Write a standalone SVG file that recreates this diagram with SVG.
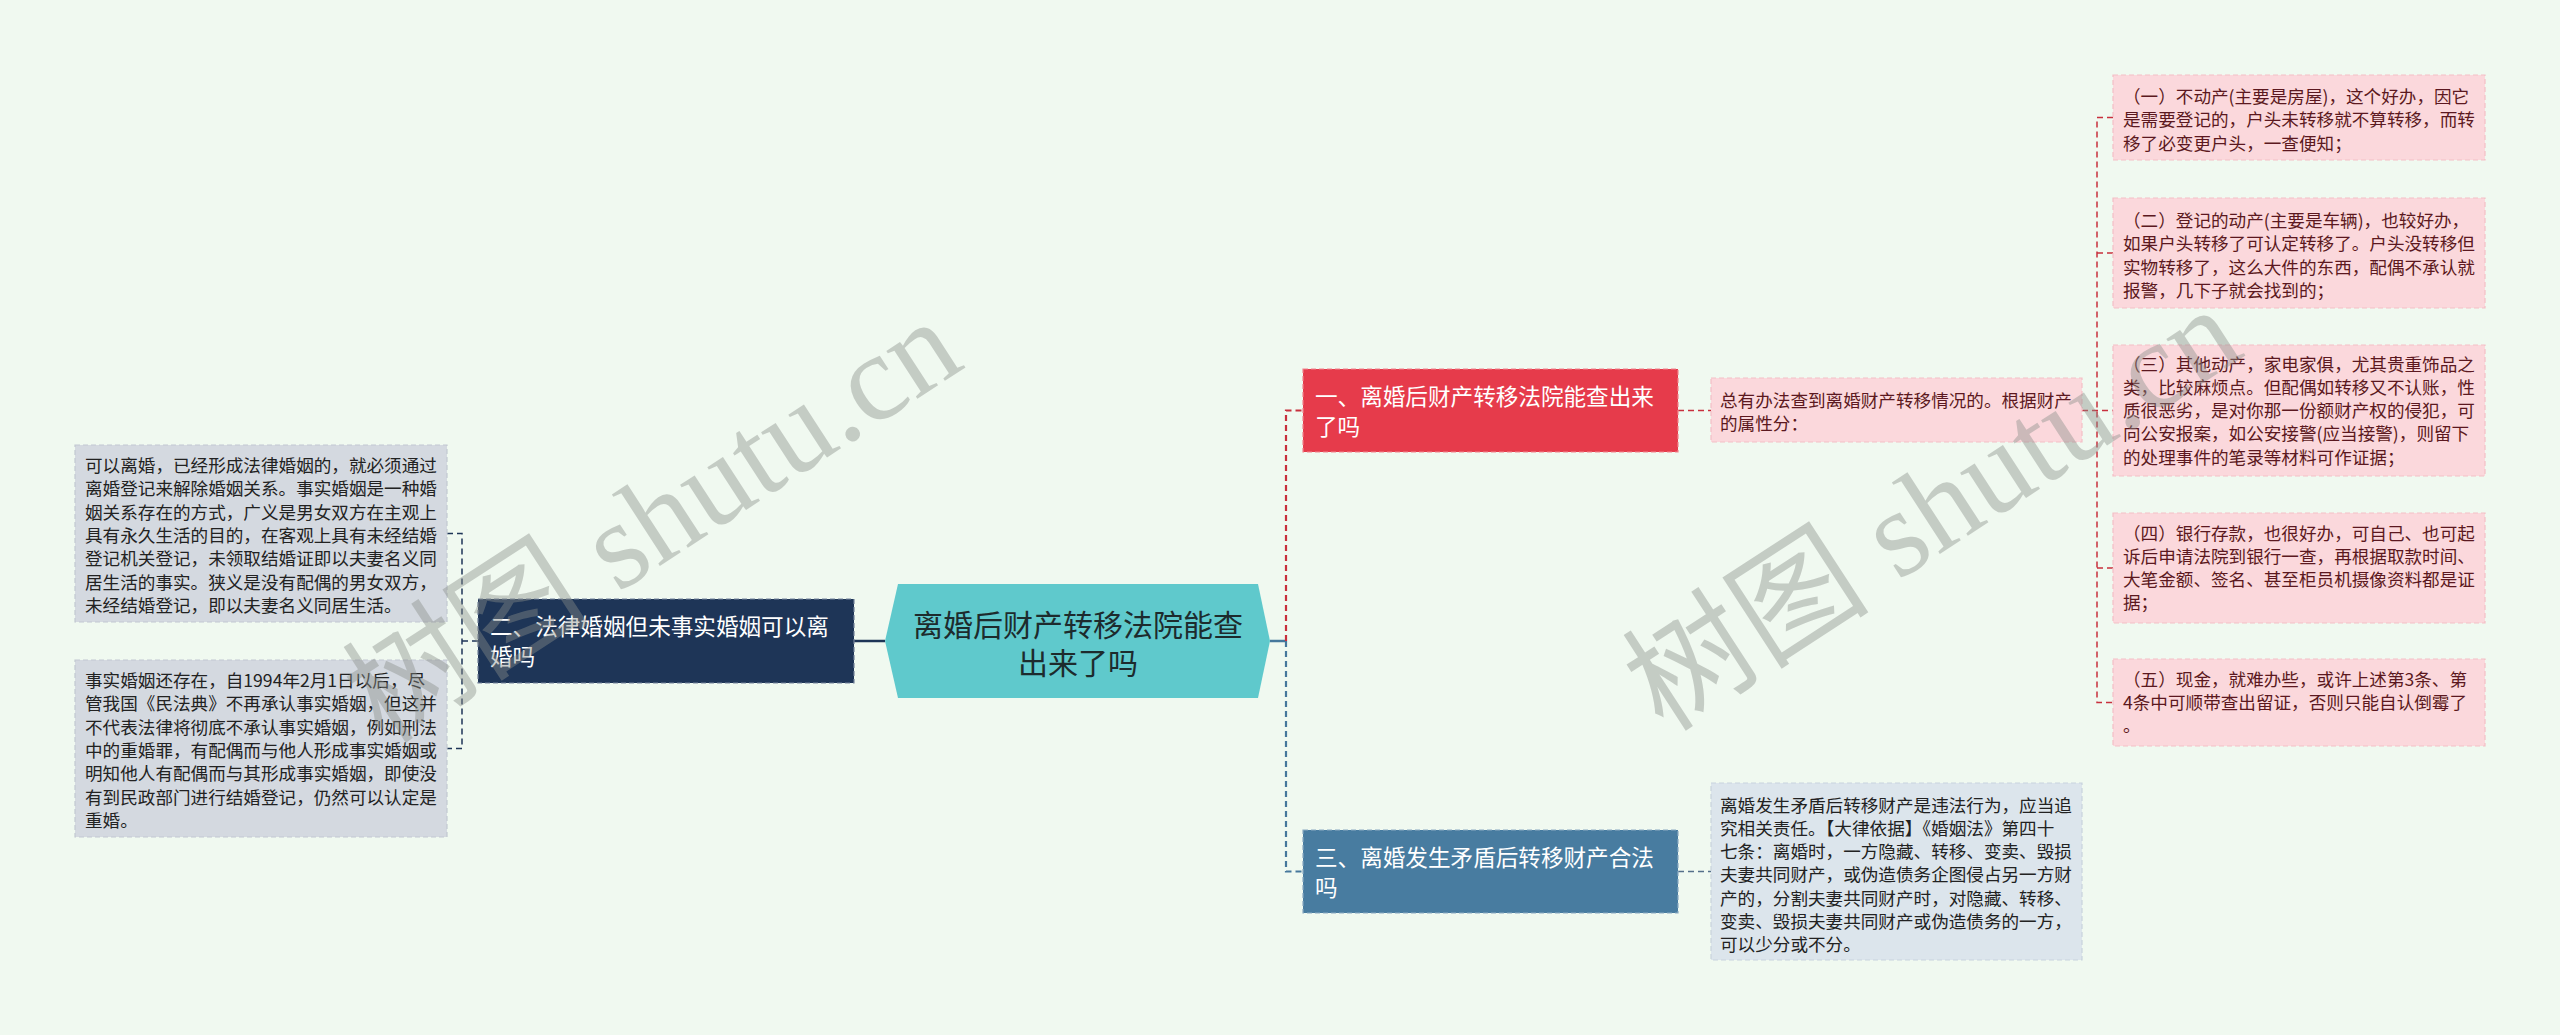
<svg xmlns="http://www.w3.org/2000/svg" width="2560" height="1035" viewBox="0 0 2560 1035">
<style>
text{font-family:"Noto Sans CJK SC","Microsoft YaHei",sans-serif}
.leaf{font-size:17.6px}
.pk{fill:#fbd8dc;stroke:#f3bfc6;stroke-width:1.2;stroke-dasharray:5 3}
.pkt{fill:#5b1820}
.gy{fill:#d4d9e0;stroke:#c2c8d1;stroke-width:1.2;stroke-dasharray:5 3}
.bg2{fill:#dce5ec;stroke:#c8d3dd;stroke-width:1.2;stroke-dasharray:5 3}
.dk{fill:#222}
.sub{font-size:22.6px;fill:#fff}
.wm{font-family:"Liberation Serif","Noto Sans CJK SC",serif;font-size:124px;fill:#8a8f8a;opacity:0.42}
.cr{fill:none;stroke:#c8303d;stroke-width:1.5;stroke-dasharray:6 4}
.cb{fill:none;stroke:#46789c;stroke-width:1.5;stroke-dasharray:6 4}
.cn{fill:none;stroke:#1e3557;stroke-width:1.5;stroke-dasharray:6 4}
</style>
<rect x="0" y="0" width="2560" height="1035" fill="#f0f9f0"/>
<g id="connectors">
<line x1="854" y1="641" x2="885" y2="641" stroke="#1e3557" stroke-width="2.5"/>
<path class="cn" d="M478 641 H462 M447 533.5 H462 V748.5 H447"/>
<line x1="1270" y1="641" x2="1286" y2="641" stroke="#46789c" stroke-width="2.5"/>
<path class="cr" style="stroke-width:2.2" d="M1286 641 V410.5 H1303"/>
<path class="cb" style="stroke-width:2.2" d="M1286 641 V871.5 H1303"/>
<path class="cr" d="M1678 410.5 H1711"/>
<path class="cb" style="stroke:#56708a" d="M1678 871.5 H1711"/>
<path class="cr" d="M2082 410.5 H2113 M2113 117.5 H2097 V702.5 H2113 M2097 253 H2113 M2097 568 H2113"/>
</g>
<g id="center">
<polygon points="885,641 898,584 1258,584 1270,641 1258,698 898,698" fill="#5fc9cc"/>
<text x="1078" y="636" font-size="30" fill="#1d2b2d" text-anchor="middle">离婚后财产转移法院能查</text>
<text x="1078" y="674" font-size="30" fill="#1d2b2d" text-anchor="middle">出来了吗</text>
</g>
<g id="n2">
<rect x="478" y="599" width="376" height="84" fill="#1e3557" stroke="#75839b" stroke-width="1.2" stroke-dasharray="5 3"/>
<text class="sub" x="490" y="634.5">二、法律婚姻但未事实婚姻可以离</text>
<text class="sub" x="490" y="664.5">婚吗</text>
</g>
<g id="l1">
<rect class="gy" x="75" y="445" width="372" height="177"/>
<text class="leaf dk" x="85"><tspan x="85" y="472">可以离婚，已经形成法律婚姻的，就必须通过</tspan><tspan x="85" y="495.3">离婚登记来解除婚姻关系。事实婚姻是一种婚</tspan><tspan x="85" y="518.6">姻关系存在的方式，广义是男女双方在主观上</tspan><tspan x="85" y="541.9">具有永久生活的目的，在客观上具有未经结婚</tspan><tspan x="85" y="565.2">登记机关登记，未领取结婚证即以夫妻名义同</tspan><tspan x="85" y="588.5">居生活的事实。狭义是没有配偶的男女双方，</tspan><tspan x="85" y="611.8">未经结婚登记，即以夫妻名义同居生活。</tspan></text>
</g>
<g id="l2">
<rect class="gy" x="75" y="660" width="372" height="177"/>
<text class="leaf dk"><tspan x="85" y="687">事实婚姻还存在，自1994年2月1日以后，尽</tspan><tspan x="85" y="710.3">管我国《民法典》不再承认事实婚姻，但这并</tspan><tspan x="85" y="733.6">不代表法律将彻底不承认事实婚姻，例如刑法</tspan><tspan x="85" y="756.9">中的重婚罪，有配偶而与他人形成事实婚姻或</tspan><tspan x="85" y="780.2">明知他人有配偶而与其形成事实婚姻，即使没</tspan><tspan x="85" y="803.5">有到民政部门进行结婚登记，仍然可以认定是</tspan><tspan x="85" y="826.8">重婚。</tspan></text>
</g>
<g id="n1">
<rect x="1303" y="369" width="375" height="83" fill="#e63b4b" stroke="#f2848d" stroke-width="1.2" stroke-dasharray="5 3"/>
<text class="sub" x="1315" y="404.5">一、离婚后财产转移法院能查出来</text>
<text class="sub" x="1315" y="434.5">了吗</text>
</g>
<g id="n3">
<rect x="1303" y="830" width="375" height="83" fill="#487ca0" stroke="#8aaac2" stroke-width="1.2" stroke-dasharray="5 3"/>
<text class="sub" x="1315" y="865.5">三、离婚发生矛盾后转移财产合法</text>
<text class="sub" x="1315" y="895.5">吗</text>
</g>
<g id="r0">
<rect class="pk" x="1711" y="378" width="371" height="64"/>
<text class="leaf pkt"><tspan x="1720" y="406.5">总有办法查到离婚财产转移情况的。根据财产</tspan><tspan x="1720" y="429.8">的属性分：</tspan></text>
</g>
<g id="r6">
<rect class="bg2" x="1711" y="783" width="371" height="177"/>
<text class="leaf dk"><tspan x="1720" y="811.5">离婚发生矛盾后转移财产是违法行为，应当追</tspan><tspan x="1720" y="834.8">究相关责任。【大律依据】《婚姻法》第四十</tspan><tspan x="1720" y="858.1">七条：离婚时，一方隐藏、转移、变卖、毁损</tspan><tspan x="1720" y="881.4">夫妻共同财产，或伪造债务企图侵占另一方财</tspan><tspan x="1720" y="904.7">产的，分割夫妻共同财产时，对隐藏、转移、</tspan><tspan x="1720" y="928">变卖、毁损夫妻共同财产或伪造债务的一方，</tspan><tspan x="1720" y="951.3">可以少分或不分。</tspan></text>
</g>
<g id="r1">
<rect class="pk" x="2113" y="75" width="372" height="85"/>
<text class="leaf pkt"><tspan x="2123" y="103">（一）不动产(主要是房屋)，这个好办，因它</tspan><tspan x="2123" y="126.3">是需要登记的，户头未转移就不算转移，而转</tspan><tspan x="2123" y="149.6">移了必变更户头，一查便知；</tspan></text>
</g>
<g id="r2">
<rect class="pk" x="2113" y="198" width="372" height="110"/>
<text class="leaf pkt"><tspan x="2123" y="227">（二）登记的动产(主要是车辆)，也较好办，</tspan><tspan x="2123" y="250.3">如果户头转移了可认定转移了。户头没转移但</tspan><tspan x="2123" y="273.6">实物转移了，这么大件的东西，配偶不承认就</tspan><tspan x="2123" y="296.9">报警，几下子就会找到的；</tspan></text>
</g>
<g id="r3">
<rect class="pk" x="2113" y="345" width="372" height="131"/>
<text class="leaf pkt"><tspan x="2123" y="370.5">（三）其他动产，家电家俱，尤其贵重饰品之</tspan><tspan x="2123" y="393.8">类，比较麻烦点。但配偶如转移又不认账，性</tspan><tspan x="2123" y="417.1">质很恶劣，是对你那一份额财产权的侵犯，可</tspan><tspan x="2123" y="440.4">向公安报案，如公安接警(应当接警)，则留下</tspan><tspan x="2123" y="463.7">的处理事件的笔录等材料可作证据；</tspan></text>
</g>
<g id="r4">
<rect class="pk" x="2113" y="513" width="372" height="110"/>
<text class="leaf pkt"><tspan x="2123" y="539.5">（四）银行存款，也很好办，可自己、也可起</tspan><tspan x="2123" y="562.8">诉后申请法院到银行一查，再根据取款时间、</tspan><tspan x="2123" y="586.1">大笔金额、签名、甚至柜员机摄像资料都是证</tspan><tspan x="2123" y="609.4">据；</tspan></text>
</g>
<g id="r5">
<rect class="pk" x="2113" y="659" width="372" height="87"/>
<text class="leaf pkt"><tspan x="2123" y="685.5">（五）现金，就难办些，或许上述第3条、第</tspan><tspan x="2123" y="708.8">4条中可顺带查出留证，否则只能自认倒霉了</tspan><tspan x="2123" y="732.1">。</tspan></text>
</g>
<g id="watermarks">
<text class="wm" x="655" y="562" text-anchor="middle" transform="rotate(-33 655 525)">树图 shutu.cn</text>
<text class="wm" x="1935" y="550" text-anchor="middle" transform="rotate(-33 1935 513)">树图 shutu.cn</text>
</g>
</svg>
